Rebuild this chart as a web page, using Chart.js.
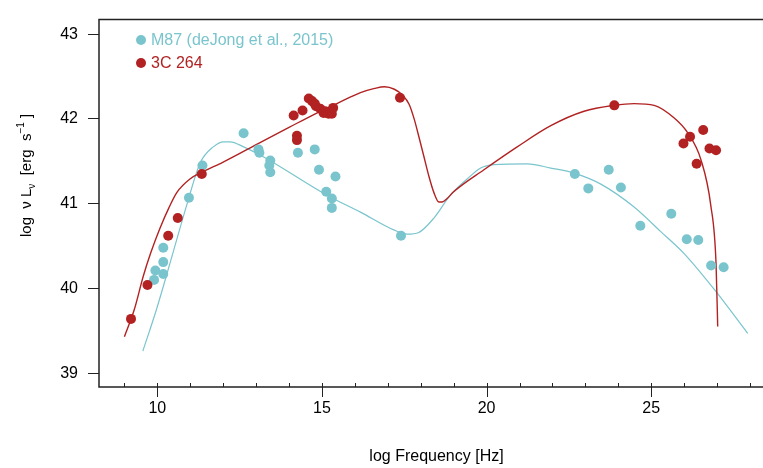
<!DOCTYPE html>
<html>
<head>
<meta charset="utf-8">
<script src="https://cdn.jsdelivr.net/npm/chart.js@4.4.1/dist/chart.umd.min.js"></script>
<style>
  html, body { margin: 0; padding: 0; background: #fff; overflow: hidden; }
  #wrap { width: 763px; height: 468px; overflow: hidden; }
</style>
</head>
<body>
<div id="wrap"><canvas id="myChart" width="779" height="468"></canvas></div>
<script>
// M87 data points (log nu, log nuLnu)
const m87Freq = [9.90, 9.94, 10.18, 10.18, 10.18, 10.96, 11.37, 12.62, 13.07, 13.10, 13.43, 13.40, 13.43, 14.27, 14.78, 14.91, 15.41, 15.13, 15.30, 15.30, 17.40, 22.68, 23.09, 23.71, 24.08, 24.67, 25.61, 26.08, 26.43, 26.82, 27.20];
const m87Lum = [40.10, 40.21, 40.17, 40.31, 40.48, 41.07, 41.45, 41.83, 41.64, 41.60, 41.51, 41.45, 41.37, 41.60, 41.64, 41.40, 41.32, 41.14, 41.06, 40.95, 40.62, 41.35, 41.18, 41.40, 41.19, 40.74, 40.88, 40.58, 40.57, 40.27, 40.25];

// 3C 264 data points
const c264Freq = [9.20, 9.70, 10.33, 10.62, 11.35, 14.14, 14.41, 14.24, 14.24, 14.60, 14.70, 14.78, 14.82, 14.95, 15.05, 15.10, 15.20, 15.30, 15.34, 17.37, 23.88, 25.98, 26.18, 26.38, 26.58, 26.77, 26.97];
const c264Lum = [39.64, 40.04, 40.62, 40.83, 41.35, 42.04, 42.10, 41.80, 41.75, 42.24, 42.21, 42.18, 42.15, 42.12, 42.07, 42.09, 42.06, 42.06, 42.13, 42.25, 42.16, 41.71, 41.79, 41.47, 41.87, 41.65, 41.63];

// model curves
const m87ModelFreq = [9.56, 9.98, 10.49, 10.89, 11.30, 11.70, 12.01, 12.21, 12.62, 13.23, 15.15, 16.17, 17.18, 17.59, 17.94, 18.40, 18.90, 19.41, 19.82, 20.22, 21.24, 21.95, 22.66, 23.47, 24.48, 25.29, 26.00, 26.91, 27.93];
const m87ModelLum = [39.26, 39.76, 40.44, 40.98, 41.48, 41.67, 41.73, 41.73, 41.67, 41.55, 41.10, 40.90, 40.69, 40.64, 40.66, 40.83, 41.10, 41.29, 41.42, 41.46, 41.47, 41.42, 41.36, 41.23, 40.96, 40.67, 40.41, 39.99, 39.47];

const c264ModelFreq = [9.00, 9.30, 9.57, 9.80, 10.08, 10.35, 10.59, 10.99, 11.35, 12.00, 13.12, 14.00, 14.95, 15.50, 16.17, 16.60, 16.90, 17.20, 17.45, 17.65, 17.80, 17.95, 18.10, 18.25, 18.40, 18.55, 18.65, 18.80, 19.00, 19.92, 20.93, 21.95, 22.96, 23.88, 24.48, 25.09, 25.70, 26.10, 26.51, 26.81, 26.97, 27.02];
const c264ModelLum = [39.43, 39.75, 40.14, 40.42, 40.71, 40.95, 41.13, 41.29, 41.37, 41.49, 41.72, 41.90, 42.09, 42.19, 42.31, 42.36, 42.38, 42.35, 42.28, 42.17, 42.00, 41.78, 41.55, 41.32, 41.13, 41.02, 41.02, 41.06, 41.14, 41.40, 41.67, 41.92, 42.09, 42.16, 42.18, 42.16, 42.01, 41.84, 41.52, 40.98, 40.29, 39.55];

const xTickValues = [10, 15, 20, 25];
const yTickValues = [39, 40, 41, 42, 43];

const cyan = '#7AC5CD';
const red = '#B22222';
const fontFamily = '"Liberation Sans", Arial, Helvetica, sans-serif';

function pairs(xs, ys) {
    return xs.map((x, i) => ({ x: x, y: ys[i] }));
}

// box + x axis ticks (minor inward, major crossing)
const framePlugin = {
    id: 'frame',
    afterDraw(chart) {
        const { ctx, chartArea: a, scales: { x } } = chart;
        ctx.save();
        ctx.strokeStyle = '#222';
        ctx.lineWidth = 1.5;
        ctx.beginPath();
        ctx.moveTo(a.right, a.top);
        ctx.lineTo(a.left, a.top);
        ctx.lineTo(a.left, a.bottom);
        ctx.lineTo(a.right, a.bottom);
        ctx.stroke();
        ctx.lineWidth = 1;
        for (let v = 9; v <= 28; v++) {
            const px = Math.round(x.getPixelForValue(v)) + 0.5;
            ctx.beginPath();
            if (v % 5 === 0) {
                ctx.moveTo(px, a.bottom - 4);
                ctx.lineTo(px, a.bottom + 10);
            } else {
                ctx.moveTo(px, a.bottom - 4);
                ctx.lineTo(px, a.bottom);
            }
            ctx.stroke();
        }
        ctx.restore();
    }
};

// legend inside the plot
const legendPlugin = {
    id: 'innerLegend',
    afterDraw(chart) {
        const ctx = chart.ctx;
        const items = [
            { text: 'M87 (deJong et al., 2015)', color: cyan, y: 40 },
            { text: '3C 264', color: red, y: 63 }
        ];
        ctx.save();
        ctx.font = '16px ' + fontFamily;
        ctx.textBaseline = 'middle';
        ctx.textAlign = 'left';
        items.forEach(function (it) {
            ctx.fillStyle = it.color;
            ctx.beginPath();
            ctx.arc(141, it.y, 5, 0, Math.PI * 2);
            ctx.fill();
            ctx.fillText(it.text, 151, it.y + 1);
        });
        ctx.restore();
    }
};

// y axis title with sub/superscripts
const yTitlePlugin = {
    id: 'yTitle',
    afterDraw(chart) {
        const ctx = chart.ctx;
        const parts = [
            { t: 'log  ν L', size: 15, dy: 0 },
            { t: 'ν', size: 10, dy: 4 },
            { t: '  [erg  s', size: 15, dy: 0 },
            { t: '−1', size: 10, dy: -7 },
            { t: ' ]', size: 15, dy: 0 }
        ];
        ctx.save();
        ctx.translate(31, 237);
        ctx.rotate(-Math.PI / 2);
        ctx.fillStyle = '#000';
        ctx.textBaseline = 'alphabetic';
        ctx.textAlign = 'left';
        let pos = 0;
        parts.forEach(function (p) {
            ctx.font = p.size + 'px ' + fontFamily;
            ctx.fillText(p.t, pos, p.dy);
            pos += ctx.measureText(p.t).width;
        });
        ctx.restore();
    }
};

const ctx = document.getElementById('myChart').getContext('2d');
const myChart = new Chart(ctx, {
    type: 'scatter',
    data: {
        datasets: [
            {
                label: 'M87 (deJong et al., 2015)',
                data: pairs(m87Freq, m87Lum),
                backgroundColor: cyan,
                borderWidth: 0,
                pointRadius: 5,
                order: 1
            },
            {
                label: '3C 264',
                data: pairs(c264Freq, c264Lum),
                backgroundColor: red,
                borderWidth: 0,
                pointRadius: 5,
                order: 0
            },
            {
                label: 'M87 model',
                data: pairs(m87ModelFreq, m87ModelLum),
                showLine: true,
                borderColor: cyan,
                borderWidth: 1.2,
                pointRadius: 0,
                cubicInterpolationMode: 'monotone',
                order: 3
            },
            {
                label: '3C 264 model',
                data: pairs(c264ModelFreq, c264ModelLum),
                showLine: true,
                borderColor: red,
                borderWidth: 1.4,
                pointRadius: 0,
                cubicInterpolationMode: 'monotone',
                order: 2
            }
        ]
    },
    options: {
        responsive: false,
        animation: false,
        devicePixelRatio: 1,
        layout: { padding: { left: 0, top: 9, right: 0, bottom: 0 } },
        plugins: {
            legend: { display: false },
            tooltip: { enabled: false }
        },
        elements: { point: { hoverRadius: 5 } },
        scales: {
            x: {
                type: 'linear',
                min: 8.228,
                max: 28.73,
                afterBuildTicks: function (scale) {
                    scale.ticks = xTickValues.map(v => ({ value: v }));
                },
                afterFit: function (scale) { scale.height = 81; },
                grid: { display: false, drawTicks: false },
                border: { display: false },
                ticks: {
                    color: '#000',
                    padding: 12,
                    maxRotation: 0,
                    font: { size: 16, family: fontFamily }
                },
                title: {
                    display: true,
                    text: 'log Frequency [Hz]',
                    color: '#000',
                    padding: { top: 0, bottom: 2 },
                    font: { size: 16, family: fontFamily }
                }
            },
            y: {
                type: 'linear',
                min: 38.836,
                max: 43.172,
                afterBuildTicks: function (scale) {
                    scale.ticks = yTickValues.map(v => ({ value: v }));
                },
                afterFit: function (scale) { scale.width = 99; },
                grid: {
                    drawOnChartArea: false,
                    drawTicks: true,
                    tickLength: 11,
                    color: '#222',
                    lineWidth: 1
                },
                border: { display: false },
                ticks: {
                    color: '#000',
                    padding: 10,
                    font: { size: 16, family: fontFamily }
                }
            }
        }
    },
    plugins: [framePlugin, legendPlugin, yTitlePlugin]
});
</script>
</body>
</html>
